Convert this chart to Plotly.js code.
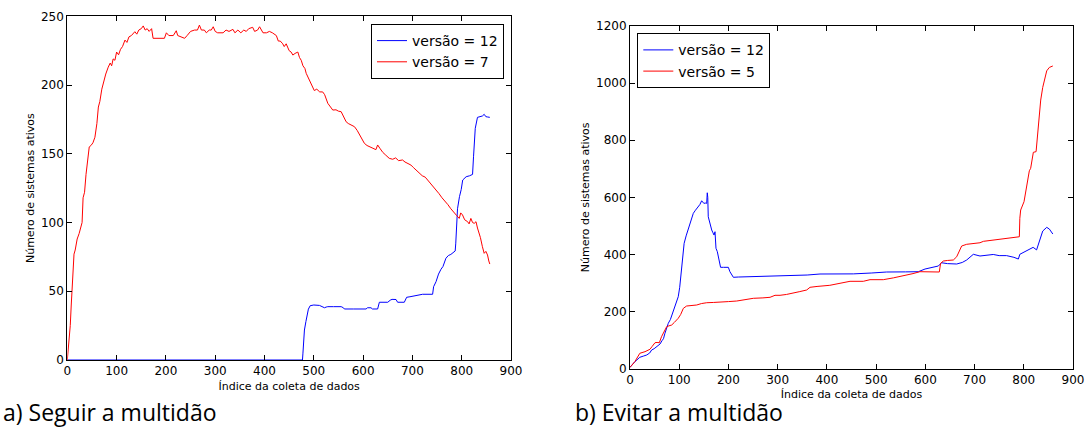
<!DOCTYPE html>
<html>
<head>
<meta charset="utf-8">
<script src="https://cdn.plot.ly/plotly-3.0.1.min.js"></script>
<style>html,body{margin:0;padding:0;background:#fff;}#chart{width:1085px;height:429px;}</style>
</head>
<body>
<div id="chart"></div>
<script>
// ---- Data: a) Seguir a multidão ----
const leftX12 = [0,477,478,481,484,486,489,492.7,500,511.5,517,521.7,525,528.4,540,555.5,560,562,580,600,606,609,616,619,629.5,633,645,650,655,658.7,666.8,670,683.6,688.3,695,703.8,707,720.7,741,743,748,753,758,762,768,773,778,786.8,788,789.5,791.5,795.5,799,802,809,816,822,824,827.5,832,838,842,845.6,849,852,857];
const leftY12 = [0,0,5,21.8,28,32.7,37,39.5,40,39.7,39,38,38.5,38.8,38.8,38.8,38,37.1,37.1,37.1,37.1,38,38,37.1,37.1,42,42,42,43.5,44.1,44,42,42,45.6,46,46.5,47,47.8,47.8,53.3,57,62.5,66,68,74,76,76.8,79.3,85,99.4,110,118.8,124,130.9,133.3,134,135,147.8,168.5,176.5,177,177.5,178.7,177,176.8,176.5];

const leftX7 = [0,3,6,8,10,12,13.6,16,20,24,28,30,32,35,38,40.5,43,44.5,48,52,56,60,63,66,70,74,78,83,87,90,93,96.6,100,104,108,112,117,121,125,130,134,137,141,145,150,154,158,162,166,171,174,180,190,197,201,206,215,221,224,230,238,243,250,258,264,268,272,278,282,288,292,296,300,305,309,316,322,328,336,340,346,352,358,363,368,376,380,386,390,397,404,410,416,420,424,428,432,437,440,444,447,450,454,457.5,462,467.6,471,474.5,478,482,484.6,490,495,501,506,512,518,522,528.4,532,538.5,545,550,555.5,560,565.6,570,576,582.5,588,594,598,602.6,608,612.6,620,626,629.5,634,640,646,653,660,666,672,680,685,690,697,702,708,714,720,726,731,736,742,748,754,760,768,772,778,785,790,795,798,801.7,806,812,815,818.6,822,825.4,829,832,835.5,838,842,845.6,849,852.4,855,857];
const leftY7 = [0,10,25,40,52,62,77,80,88,92,98,100,118,122,135,145,152,155,156,158,162,172,184,188,197,203,208,213,216,214,219,218,224,222,226,228,232.7,231,235,236,238,238.8,237,240,241,243,240,241,239,241,234,234,234,234,238,236,236,239.5,236,235,234,236,239,240,240,243.6,240,240,238,240,240,242.4,239,238,238,238,240,239,240.5,238,240,238,240,239,241,242,239,240,242.4,238,238,239,238,237,236,232,232,230,228,230,226.7,225,224,221.8,223,224,220,218,214,212,208.5,204,200,196,197,195,195,193,186.7,185,181.8,182,181,180.6,177,173.3,172,171,169.7,167,163,160,157.6,156,155,154,153,156.4,154,151,149,146.7,146,147,145,145.5,144,143,141.8,140,138,135.8,134,133,131,129,126,123.6,121,118,115,113,110,106.7,105,103,107,105.5,102,100.6,99,103,100,99.4,100.6,96,92,89,82.4,77.6,79,76.4,72,69.8];

// ---- Data: b) Evitar a multidão ----
const rightX12 = [0,1.4,5,10,15,20,27,34,40,44,49,54,58,61,65,68,71,74,77.8,82,85,88,91,95,98,101,103,105,108,110,114,118,122,125,128.6,133,138.8,142,145.6,148,150,153,155.8,157,158,159,162,166,168,170.7,172.7,174.7,177.4,180,184,190,195,199.8,203,206,210,220,250,280,305,331.8,360,386,420,453.7,490,521.5,560,585.8,599.4,615,626.4,633,645,663.7,675,684,690,697.5,711,725,738,750,765,780,789,792,800,809,815,819,826,833,838.5,846.6,852,859];
const rightY12 = [5,7,15,24.5,32,40,44,48,55,65.5,70,77,82,86.5,98,105,124,140,159,172,188,205.5,220,236,252,285,315,345.6,400,439,465,485,509,528,544,555,567,575,588,582,579,580,579,616,600,532,510,485.7,478,468,479.7,421.6,409.8,390,355,355,355,355,339.7,330,320,321,322,323,324.6,325,328,331.6,331,332,335,338.6,339,339.7,349,356,359.6,371,368,366.6,372,380.6,390,400.6,394.6,397,400,396,396,390,384,400.6,407,415.6,420,425,416,450.6,482,495,489,471.6];

const rightX5 = [0,1.4,10,20,30.5,40.6,45,50.8,55,59.6,64,70,74.5,79,84.7,90,98,103,108.4,115,125,135.5,145,155.8,170,182.8,200,216.8,235,250.6,270,284.5,294.6,304.8,318,331.8,345,359,365.7,380,399.6,406,447,474,487.6,514.6,535,555,575,589,610,628.4,631,636.6,645,656.9,663.7,673.8,684,697.5,711,718,740,758,775,791,792,793.7,800.5,806,811.3,814,819.4,825,829.6,834.4,838.5,846.6,852,859];
const rightY5 = [5,7,25,54,59.6,68,78,91,92,91,112,130,147,150,153,162,176.5,190,211.5,219.5,221,223,228,231,232,232.5,235,237,242,246.5,248,250,257,257,260,264,270,275.6,285,288,290.6,292,306,306,311.7,311.7,318,324.6,333,339.7,339,338.6,369,377,379,380.6,392,429.6,435.6,439,441,446,451,456.6,460,462,526.6,555.7,584.8,643,693,701.6,757.7,760,847.5,940.7,985,1043,1055,1060];

const xTicksVals = [0,100,200,300,400,500,600,700,800,900];
const seriesNames = ['versão = 12', 'versão = 7', 'versão = 12', 'versão = 5'];
const captions = ['a) Seguir a multidão', 'b) Evitar a multidão'];
const xTitle = 'Índice da coleta de dados';
const yTitle = 'Número de sistemas ativos';

const BLUE = '#0000ff', RED = '#ff0000';
const tickFont = {family: 'DejaVu Sans', size: 12, color: '#000'};
const titleFont = {family: 'DejaVu Sans', size: 11, color: '#000'};

function axisBase() {
  return {
    showline: true, linecolor: '#000', linewidth: 1, mirror: 'ticks',
    ticks: 'inside', ticklen: 5, tickwidth: 1, tickcolor: '#000',
    showgrid: false, zeroline: false, tickfont: tickFont, automargin: false
  };
}

const traces = [
  {x: leftX12, y: leftY12, name: seriesNames[0], mode: 'lines', line: {color: BLUE, width: 1}, xaxis: 'x', yaxis: 'y', legend: 'legend'},
  {x: leftX7, y: leftY7, name: seriesNames[1], mode: 'lines', line: {color: RED, width: 1}, xaxis: 'x', yaxis: 'y', legend: 'legend'},
  {x: rightX12, y: rightY12, name: seriesNames[2], mode: 'lines', line: {color: BLUE, width: 1}, xaxis: 'x2', yaxis: 'y2', legend: 'legend2'},
  {x: rightX5, y: rightY5, name: seriesNames[3], mode: 'lines', line: {color: RED, width: 1}, xaxis: 'x2', yaxis: 'y2', legend: 'legend2'}
];

const layout = {
  width: 1085, height: 429,
  margin: {l: 0, r: 0, t: 0, b: 0},
  paper_bgcolor: '#fff', plot_bgcolor: '#fff',
  showlegend: true,
  xaxis: Object.assign(axisBase(), {domain: [67.3/1085, 511/1085], range: [0, 900], tickvals: xTicksVals, anchor: 'y',
    title: {text: xTitle, font: titleFont, standoff: 4}}),
  yaxis: Object.assign(axisBase(), {domain: [1-360/429, 1-16.3/429], range: [0, 250], dtick: 50, anchor: 'x',
    title: {text: yTitle, font: titleFont, standoff: 4}}),
  xaxis2: Object.assign(axisBase(), {domain: [630/1085, 1073/1085], range: [0, 900], tickvals: xTicksVals, anchor: 'y2',
    title: {text: xTitle, font: titleFont, standoff: 4}}),
  yaxis2: Object.assign(axisBase(), {domain: [1-368.7/429, 1-26/429], range: [0, 1200], dtick: 200, anchor: 'x2',
    title: {text: yTitle, font: titleFont, standoff: 4}}),
  legend: {x: 504/1085, xanchor: 'right', y: 1-24/429, yanchor: 'top', bgcolor: '#fff', bordercolor: '#000', borderwidth: 1,
    font: {family: 'DejaVu Sans', size: 14, color: '#000'}, itemwidth: 30, tracegroupgap: 0},
  legend2: {x: 637.3/1085, xanchor: 'left', y: 1-33.3/429, yanchor: 'top', bgcolor: '#fff', bordercolor: '#000', borderwidth: 1,
    font: {family: 'DejaVu Sans', size: 14, color: '#000'}, itemwidth: 30, tracegroupgap: 0},
  annotations: [
    {text: captions[0], xref: 'paper', yref: 'paper', x: 2/1085, xanchor: 'left', y: 0, yanchor: 'bottom', showarrow: false,
      borderpad: 0, font: {family: 'Open Sans', size: 23, color: '#000'}},
    {text: captions[1], xref: 'paper', yref: 'paper', x: 574/1085, xanchor: 'left', y: 0, yanchor: 'bottom', showarrow: false,
      borderpad: 0, font: {family: 'Open Sans', size: 23, color: '#000'}}
  ]
};

Plotly.newPlot('chart', traces, layout, {staticPlot: true, displayModeBar: false});
</script>
</body>
</html>
